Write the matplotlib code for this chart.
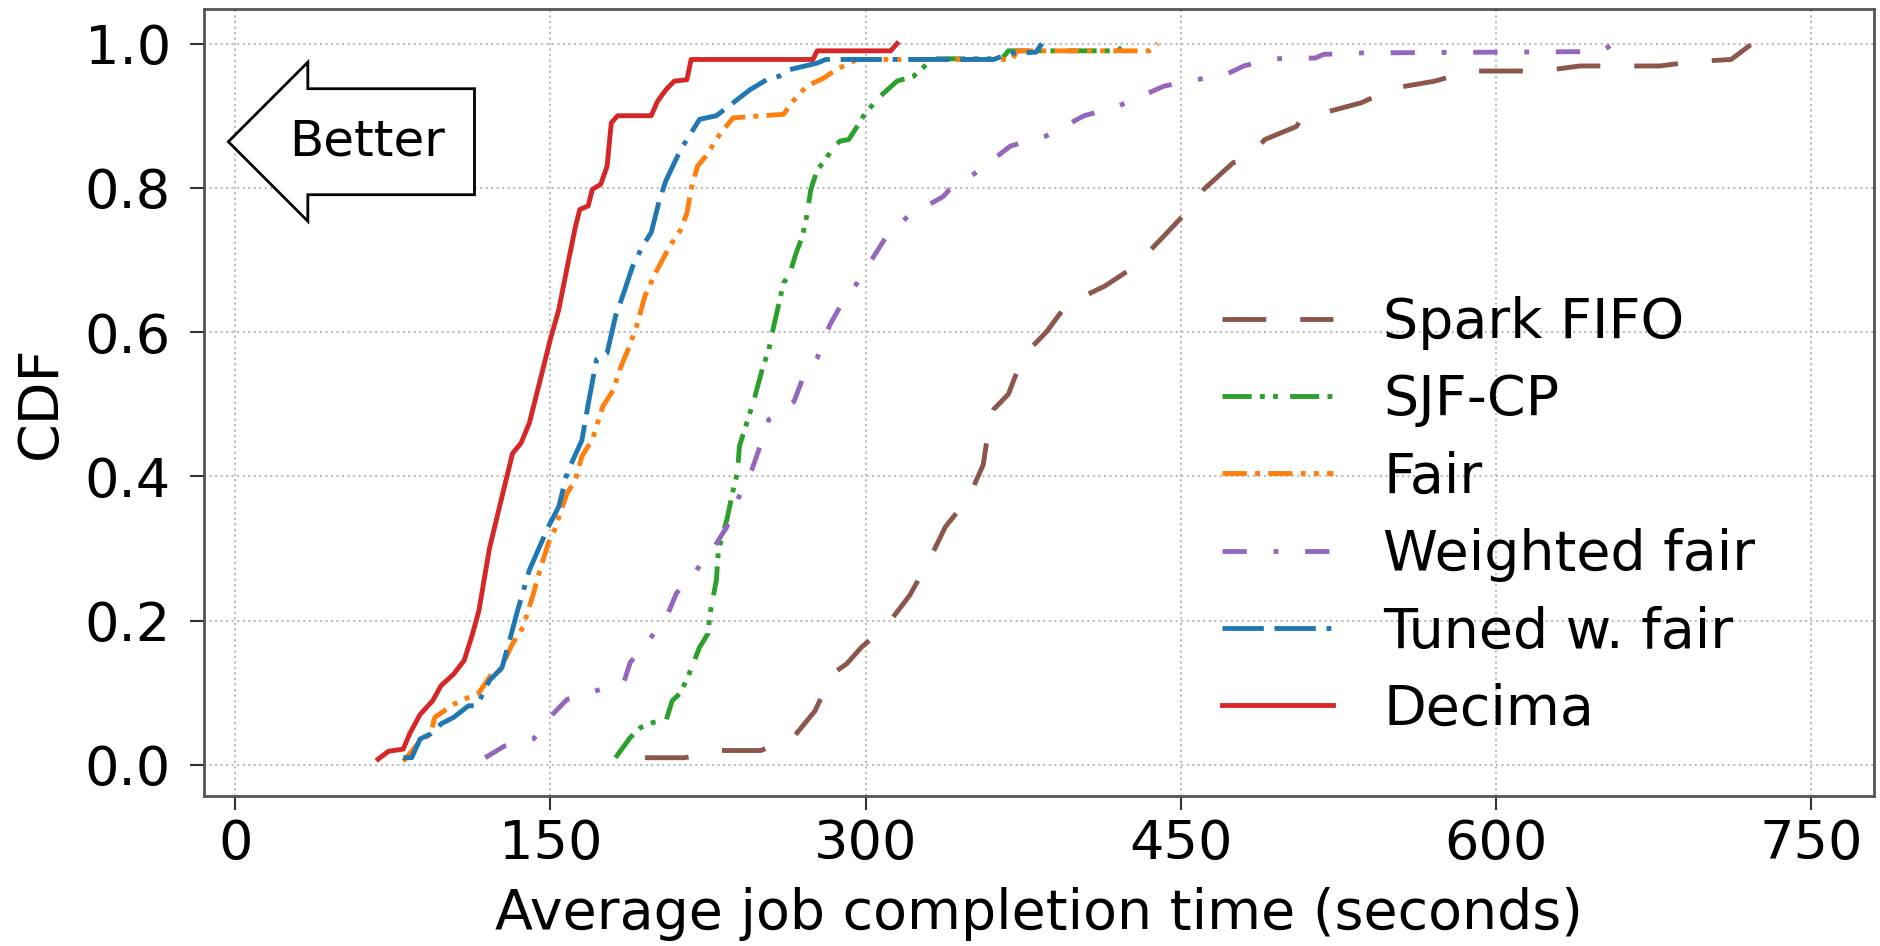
import matplotlib
matplotlib.use("Agg")
import matplotlib.pyplot as plt

# CDF points (x = seconds, y = fraction)
fifo_x = [195, 214, 230, 250, 265, 276, 284, 291, 298, 310, 321, 330, 338, 349, 356, 359, 361, 368,
          375, 386, 397, 404, 414, 428, 439, 451, 461, 475, 482, 490, 505, 508, 518, 536, 551, 571,
          584, 588, 622, 640, 678, 694, 712, 722]
fifo_y = [0.01, 0.01, 0.02, 0.02, 0.036, 0.075, 0.126, 0.14, 0.163, 0.193, 0.235, 0.282, 0.33, 0.37,
          0.416, 0.474, 0.493, 0.514, 0.567, 0.60, 0.643, 0.65, 0.664, 0.691, 0.724, 0.761, 0.798,
          0.835, 0.839, 0.867, 0.885, 0.897, 0.904, 0.918, 0.938, 0.948, 0.959, 0.962, 0.962, 0.969,
          0.969, 0.975, 0.978, 1.0]

sjf_x = [181, 188, 193, 199, 205, 208, 212, 216, 221, 225, 226, 229, 230, 234, 237, 239, 240, 244,
         247, 251, 254, 256, 261, 264, 267, 270, 272, 274, 277, 281, 285, 288, 292, 296, 300, 307,
         315, 323, 329, 333, 365, 368, 420, 424]
sjf_y = [0.01, 0.038, 0.052, 0.059, 0.061, 0.089, 0.10, 0.126, 0.163, 0.182, 0.21, 0.256, 0.298,
         0.34, 0.381, 0.405, 0.442, 0.479, 0.507, 0.55, 0.576, 0.604, 0.668, 0.682, 0.71, 0.733,
         0.761, 0.798, 0.825, 0.839, 0.858, 0.865, 0.867, 0.885, 0.904, 0.927, 0.948, 0.955, 0.971,
         0.979, 0.979, 0.99, 0.99, 1.0]

fair_x = [80, 82, 88, 93, 95, 104, 109, 116, 122, 126, 132, 137, 142, 144, 149, 152, 158, 162, 165,
          170, 175, 180, 183, 187, 191, 195, 200, 207, 212, 215, 217, 220, 224, 231, 237, 251, 261,
          266, 272, 280, 286, 291, 296, 370, 372, 435, 439]
fair_y = [0.005, 0.012, 0.033, 0.043, 0.066, 0.084, 0.091, 0.10, 0.126, 0.131, 0.168, 0.191, 0.238,
          0.26, 0.307, 0.326, 0.377, 0.395, 0.428, 0.451, 0.497, 0.52, 0.548, 0.576, 0.608, 0.65,
          0.682, 0.72, 0.742, 0.765, 0.798, 0.83, 0.844, 0.876, 0.897, 0.90, 0.902, 0.922, 0.941,
          0.952, 0.964, 0.971, 0.978, 0.978, 0.99, 0.99, 1.0]

wfair_x = [119, 128, 142, 151, 158, 172, 185, 188, 197, 206, 210, 219, 229, 234, 239, 246, 249, 254,
           266, 270, 277, 283, 288, 296, 305, 310, 320, 337, 340, 352, 369, 386, 404, 420, 435, 442,
           457, 470, 480, 494, 514, 518, 533, 650, 656]
wfair_y = [0.01, 0.026, 0.036, 0.07, 0.091, 0.103, 0.115, 0.142, 0.173, 0.21, 0.238, 0.268, 0.307,
           0.33, 0.367, 0.41, 0.435, 0.479, 0.504, 0.535, 0.564, 0.61, 0.636, 0.668, 0.71, 0.733,
           0.76, 0.788, 0.798, 0.82, 0.858, 0.872, 0.90, 0.913, 0.932, 0.941, 0.95, 0.955, 0.969,
           0.979, 0.98, 0.985, 0.987, 0.989, 1.0]

tuned_x = [80, 84, 88, 93, 98, 104, 111, 115, 121, 127, 131, 134, 140, 149, 154, 158, 165, 168, 172,
           177, 181, 185, 189, 194, 198, 202, 205, 212, 221, 229, 237, 245, 253, 259, 264, 277, 281,
           361, 369, 381, 384]
tuned_y = [0.01, 0.01, 0.036, 0.043, 0.057, 0.066, 0.082, 0.082, 0.117, 0.135, 0.177, 0.21, 0.27,
           0.33, 0.358, 0.405, 0.45, 0.50, 0.562, 0.571, 0.622, 0.655, 0.69, 0.72, 0.738, 0.784,
           0.81, 0.853, 0.895, 0.90, 0.918, 0.936, 0.95, 0.955, 0.964, 0.973, 0.978, 0.978, 0.987,
           0.988, 1.0]

decima_x = [68, 73, 80, 83, 88, 94, 98, 104, 109, 113, 116, 121, 127, 132, 136, 140, 144, 150, 154,
            158, 162, 164, 168, 170, 174, 177, 179, 182, 198, 201, 205, 209, 215, 217, 275, 277,
            312, 315]
decima_y = [0.008, 0.019, 0.022, 0.043, 0.07, 0.089, 0.11, 0.126, 0.145, 0.182, 0.214, 0.30, 0.372,
            0.432, 0.446, 0.474, 0.52, 0.59, 0.631, 0.69, 0.747, 0.77, 0.775, 0.798, 0.805, 0.83,
            0.89, 0.90, 0.90, 0.92, 0.936, 0.948, 0.95, 0.978, 0.978, 0.99, 0.99, 1.0]

labels = ["Spark FIFO", "SJF-CP", "Fair", "Weighted fair", "Tuned w. fair", "Decima"]
xticks = [0, 150, 300, 450, 600, 750]
yticks = [0.0, 0.2, 0.4, 0.6, 0.8, 1.0]

plt.rcParams["font.family"] = "DejaVu Sans"

fig = plt.figure(figsize=(18.81, 9.46), dpi=100)
ax = fig.add_axes([0.1085, 0.1586, 0.8878, 0.8319])

lw = 3.5
ax.plot(fifo_x, fifo_y, color="#8c564b", lw=lw, ls=(0, (9, 7)), label=labels[0])
ax.plot(sjf_x, sjf_y, color="#2ca02c", lw=lw, ls=(0, (6, 1.7, 1, 1.7, 1, 2.5)), label=labels[1])
ax.plot(fair_x, fair_y, color="#ff7f0e", lw=lw, ls=(0, (5, 1.7, 1, 1.7, 5, 1.7, 1, 1.7, 1, 1.7)), label=labels[2])
ax.plot(wfair_x, wfair_y, color="#9467bd", lw=lw, ls=(0, (5, 5.5, 1, 5.5)), label=labels[3])
ax.plot(tuned_x, tuned_y, color="#1f77b4", lw=lw, ls=(0, (8.5, 2.2, 8.5, 2.2, 1, 2.2)), label=labels[4])
ax.plot(decima_x, decima_y, color="#d62728", lw=lw, ls="-", label=labels[5])

ax.set_xlim(-14.8, 780)
ax.set_ylim(-0.043, 1.048)
ax.set_xticks(xticks)
ax.set_yticks(yticks)
ax.set_yticklabels(["%.1f" % t for t in yticks])
ax.tick_params(labelsize=39, length=10, width=1.5, color="#333333")
ax.tick_params(axis="x", pad=6)
ax.tick_params(axis="y", pad=14)
ax.grid(True, ls=":", lw=1.5, color="#bbbbbb")
for s in ax.spines.values():
    s.set_color("#555555")
    s.set_linewidth(2)

ax.set_xlabel("Average job completion time (seconds)", fontsize=40, labelpad=12)
ax.set_ylabel("CDF", fontsize=40, labelpad=12)

ax.text(63, 0.864, "Better", fontsize=36, ha="center", va="center",
        bbox=dict(boxstyle="larrow,pad=0.58", fc="white", ec="black", lw=2))

ax.legend(loc="upper left", bbox_to_anchor=(0.6497, 0.687), bbox_transform=fig.transFigure,
          frameon=False, fontsize=40, borderpad=0, borderaxespad=0, handlelength=2.0,
          handletextpad=0.9, labelspacing=0.42)

fig.savefig("out.png", dpi=100)
